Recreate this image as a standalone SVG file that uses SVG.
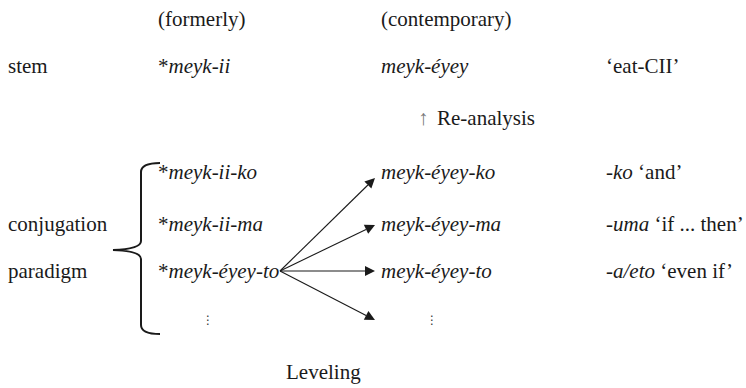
<svg xmlns="http://www.w3.org/2000/svg" width="746" height="388" viewBox="0 0 746 388">
<g id="headers">
<text x="158" y="26" font-family="Liberation Serif" font-size="21" fill="#1a1a1a">(formerly)</text>
<text x="381" y="26" font-family="Liberation Serif" font-size="21" fill="#1a1a1a">(contemporary)</text>
</g>
<g id="stem-row">
<text x="8" y="73" font-family="Liberation Serif" font-size="21" fill="#1a1a1a">stem</text>
<text x="158" y="73" font-family="Liberation Serif" font-size="21" fill="#1a1a1a">*<tspan font-style="italic">meyk-ii</tspan></text>
<text x="381" y="73" font-family="Liberation Serif" font-size="21" font-style="italic" fill="#1a1a1a">meyk-éyey</text>
<text x="606" y="73" font-family="Liberation Serif" font-size="21" fill="#1a1a1a">‘eat-CII’</text>
</g>
<g id="reanalysis">
<text x="418" y="125" font-family="Liberation Serif" font-size="21" fill="#777">↑</text>
<text x="437" y="125" font-family="Liberation Serif" font-size="21" fill="#1a1a1a">Re-analysis</text>
</g>
<g id="labels">
<text x="8" y="231" font-family="Liberation Serif" font-size="21" fill="#1a1a1a">conjugation</text>
<text x="8" y="278" font-family="Liberation Serif" font-size="21" fill="#1a1a1a">paradigm</text>
</g>
<g id="brace">
<path d="M160,163 Q141,163 141,172 L141,241 Q141,249 113,250 Q141,251 141,259 L141,325 Q141,334 160,334" stroke="#1a1a1a" stroke-width="2" fill="none"/>
</g>
<g id="old-forms">
<text x="158" y="179" font-family="Liberation Serif" font-size="21" fill="#1a1a1a">*<tspan font-style="italic">meyk-ii-ko</tspan></text>
<text x="158" y="231" font-family="Liberation Serif" font-size="21" fill="#1a1a1a">*<tspan font-style="italic">meyk-ii-ma</tspan></text>
<text x="158" y="278" font-family="Liberation Serif" font-size="21" fill="#1a1a1a">*<tspan font-style="italic">meyk-éyey-to</tspan></text>
<text x="202" y="324" font-family="DejaVu Sans" font-size="12" fill="#333">⋮</text>
</g>
<g id="new-forms">
<text x="381" y="179" font-family="Liberation Serif" font-size="21" font-style="italic" fill="#1a1a1a">meyk-éyey-ko</text>
<text x="381" y="231" font-family="Liberation Serif" font-size="21" font-style="italic" fill="#1a1a1a">meyk-éyey-ma</text>
<text x="381" y="278" font-family="Liberation Serif" font-size="21" font-style="italic" fill="#1a1a1a">meyk-éyey-to</text>
<text x="426" y="324" font-family="DejaVu Sans" font-size="12" fill="#333">⋮</text>
</g>
<g id="glosses">
<text x="606" y="179" font-family="Liberation Serif" font-size="21" fill="#1a1a1a">-<tspan font-style="italic">ko</tspan> ‘and’</text>
<text x="606" y="231" font-family="Liberation Serif" font-size="21" fill="#1a1a1a">-<tspan font-style="italic">uma</tspan> ‘if ... then’</text>
<text x="606" y="278" font-family="Liberation Serif" font-size="21" fill="#1a1a1a">-<tspan font-style="italic">a/eto</tspan> ‘even if’</text>
</g>
<g id="connectors">
<line x1="280" y1="271" x2="367.9" y2="185" stroke="#1a1a1a" stroke-width="1.1"/>
<polygon points="375,178 371.35,188.57 364.35,181.42" fill="#1a1a1a"/>
<line x1="280" y1="271" x2="366" y2="229.4" stroke="#1a1a1a" stroke-width="1.1"/>
<polygon points="375,225 368.18,233.86 363.82,224.86" fill="#1a1a1a"/>
<line x1="280" y1="271" x2="365" y2="271" stroke="#1a1a1a" stroke-width="1.1"/>
<polygon points="375,271 365,276 365,266" fill="#1a1a1a"/>
<line x1="280" y1="271" x2="366.1" y2="315.4" stroke="#1a1a1a" stroke-width="1.1"/>
<polygon points="375,320 363.82,319.86 368.40,310.98" fill="#1a1a1a"/>
</g>
<g id="leveling">
<text x="286" y="379" font-family="Liberation Serif" font-size="21" fill="#1a1a1a">Leveling</text>
</g>
</svg>
